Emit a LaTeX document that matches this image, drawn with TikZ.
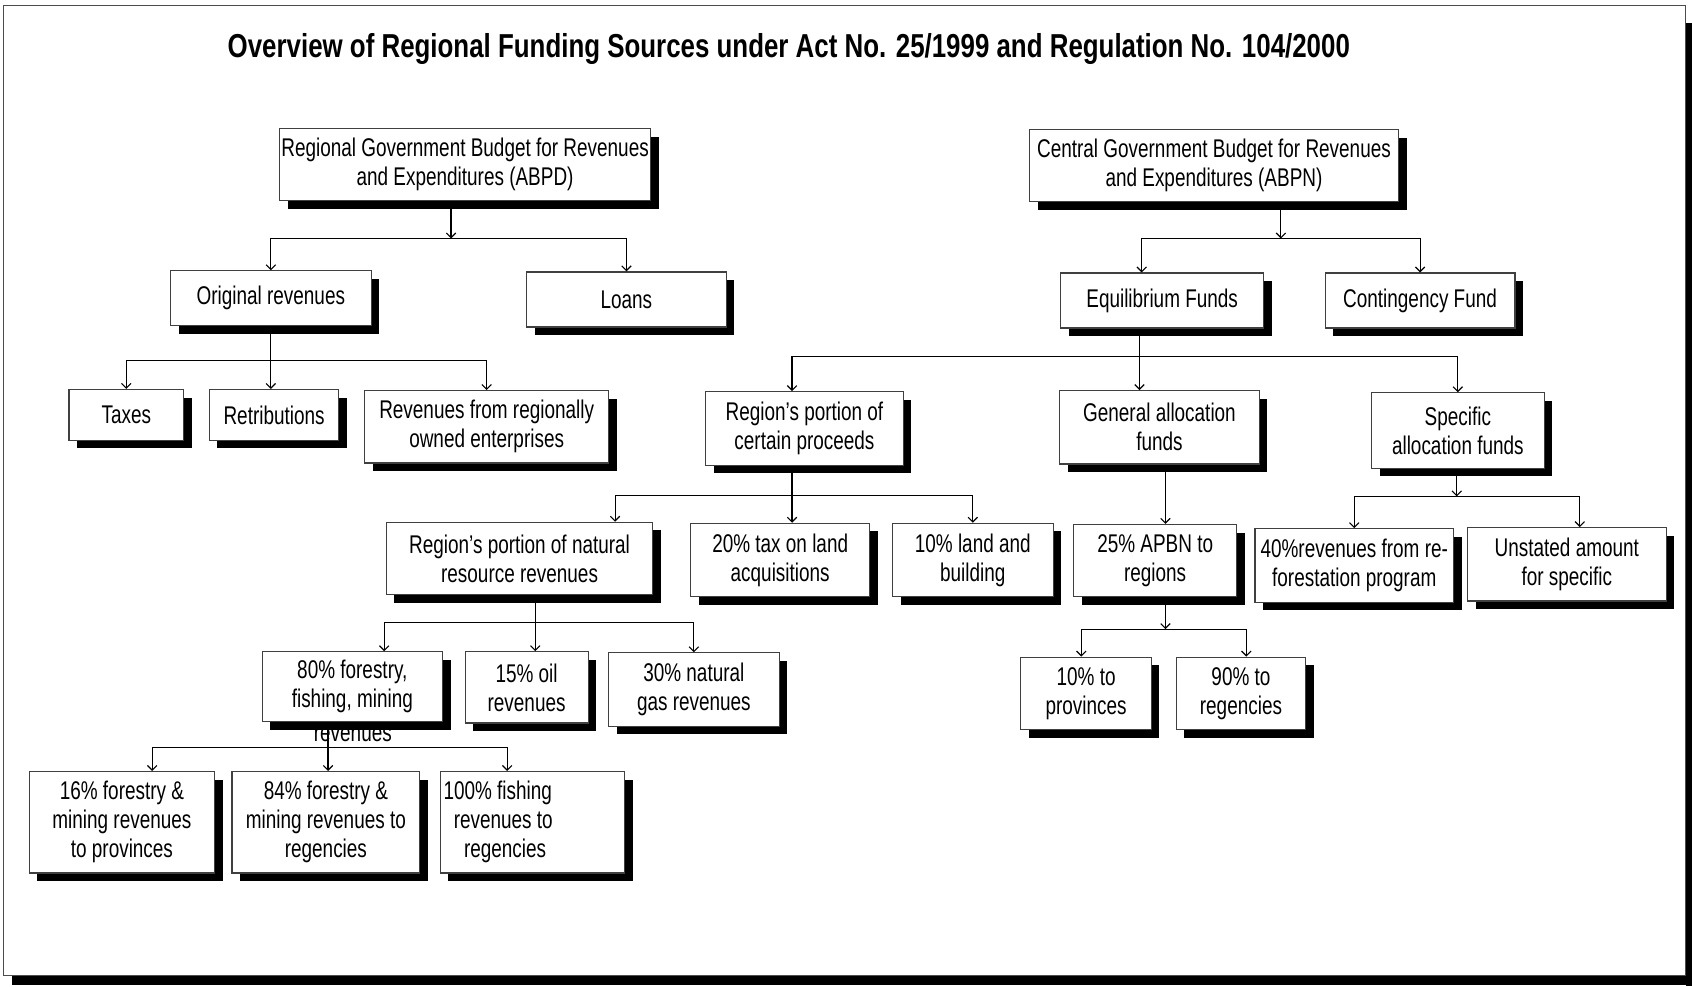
\documentclass[tikz,border=0pt]{standalone}
\usepackage{fontspec}
\setmainfont{Liberation Sans}[FakeStretch = 0.74]
\newfontfamily\titlefont{Liberation Sans}[FakeStretch = 0.78]
\usetikzlibrary{arrows.meta, shadows}

\begin{document}
\begin{tikzpicture}[x = 0.02cm, y = -0.02cm, > = {Straight Barb[length = 2.5pt, width = 5pt]},
	box/.style = {draw = black!75, line width = 0.6pt, fill = white, align = center, inner sep = 1pt,
		font = \fontsize{13.5}{15.3}\selectfont,
		drop shadow = {shadow xshift = 0.15cm, shadow yshift = -0.15cm, fill = black, opacity = 1}},
	dims/.style 2 args = {minimum width = #1 * 0.02cm, minimum height = #2 * 0.02cm},
	conn/.style = {line width = 0.6pt}]

	\useasboundingbox (0, 0) rectangle (1568, 914);

	% Frame and title

	\draw [black!70, line width = 0.6pt] (3, 5) rectangle (1562, 904);
	\fill (1562, 21) rectangle (1568, 914);
	\fill (11, 904) rectangle (1568, 913);

	\node (title) at (731, 45) {\titlefont\bfseries\fontsize{17.5}{19}\selectfont Overview of Regional Funding Sources under Act No. 25/1999 and Regulation No. 104/2000};

	% Budgets

	\node [box, dims = {344}{67}] (abpd) at (431, 152.5) {Regional Government Budget for Revenues\\and Expenditures (ABPD)};
	\node [box, dims = {342}{67}] (abpn) at (1125, 153.5) {Central Government Budget for Revenues\\and Expenditures (ABPN)};

	% Second row

	\node [box, dims = {186}{51}] (orig) at (251, 276.5) {Original revenues};
	\node [box, dims = {185}{51}] (loans) at (580.5, 277.5) {Loans};
	\node [box, dims = {188}{51}] (equil) at (1077, 278.5) {Equilibrium Funds};
	\node [box, dims = {176}{51}] (conting) at (1316, 278.5) {Contingency Fund};

	% Third row

	\node [box, dims = {106}{47}] (taxes) at (117, 384.5) {Taxes};
	\node [box, dims = {120}{47}] (retrib) at (254, 384.5) {Retributions};
	\node [box, dims = {226}{67}] (reo) at (451, 395.5) {Revenues from regionally\\owned enterprises};
	\node [box, dims = {183}{68}] (certain) at (745.5, 397) {Region's portion of\\certain proceeds};
	\node [box, dims = {185}{68}] (general) at (1074.5, 396) {General allocation\\funds};
	\node [box, dims = {160}{70}] (specific) at (1351, 399) {Specific\\allocation funds};

	% Fourth row

	\node [box, dims = {247}{67}] (natres) at (481.5, 517.5) {Region's portion of natural\\resource revenues};
	\node [box, dims = {166}{68}] (tax20) at (723, 519) {20\% tax on land\\acquisitions};
	\node [box, dims = {149}{68}] (land10) at (901.5, 519) {10\% land and\\building};
	\node [box, dims = {151}{67}] (apbn25) at (1070.5, 519.5) {25\% APBN to\\regions};
	\node [box, dims = {184}{68}] (refor) at (1255, 524) {40\%revenues from re-\\forestation program};
	\node [box, dims = {184}{68}] (unstated) at (1452, 523) {Unstated amount\\for specific};

	% Fifth row

	\node [box, dims = {167}{65}] (f80) at (326.5, 636.5) {80\% forestry,\\fishing, mining};
	\node [font = \fontsize{13.5}{15.3}\selectfont] (f80tail) at (327, 681) {revenues};
	\node [box, dims = {114}{66}] (oil15) at (488, 637) {15\% oil\\revenues};
	\node [box, dims = {158}{68}] (gas30) at (643, 639) {30\% natural\\gas revenues};
	\node [box, dims = {121}{67}] (prov10) at (1006.5, 642.5) {10\% to\\provinces};
	\node [box, dims = {120}{67}] (reg90) at (1150, 642.5) {90\% to\\regencies};

	% Sixth row

	\node [box, dims = {172}{94}] (f16) at (113, 762) {16\% forestry \&\\mining revenues\\to provinces};
	\node [box, dims = {174}{94}] (f84) at (302, 762) {84\% forestry \&\\mining revenues to\\regencies};
	\node [box, dims = {171}{94}, align = flush left, text width = 3.3cm, inner sep = 1.5pt] (fish100) at (493.5, 762) {100\% fishing\\\hspace{0.4em}revenues to\\\hspace{0.8em}regencies};

	% Junctions

	\coordinate (jabpd) at (418, 221);
	\coordinate (jabpn) at (1187, 221);
	\coordinate (jorig) at (251, 334);
	\coordinate (jequil) at (1056, 330);
	\coordinate (jcertain) at (734, 459);
	\coordinate (jspecific) at (1350, 460);
	\coordinate (jnatres) at (496, 577);
	\coordinate (japbn) at (1080, 583);
	\coordinate (jf80) at (304, 693);

	% Connectors

	\draw [conn, ->] (abpd.south -| jabpd) -- (jabpd);
	\draw [conn, ->] (jabpd) -| (orig.north);
	\draw [conn, ->] (jabpd) -| (loans.north);

	\draw [conn, ->] (abpn.south -| jabpn) -- (jabpn);
	\draw [conn, ->] (jabpn) -| (1058, 0 |- equil.north);
	\draw [conn, ->] (jabpn) -| (conting.north);

	\draw [conn] (orig.south -| jorig) -- (jorig);
	\draw [conn, ->] (jorig) -| (taxes.north);
	\draw [conn, ->] (jorig) -- (jorig |- retrib.north);
	\draw [conn, ->] (jorig) -| (reo.north);

	\draw [conn] (equil.south -| jequil) -- (jequil);
	\draw [conn, ->] (jequil) -| (734, 0 |- certain.north);
	\draw [conn, ->] (jequil) -- (jequil |- general.north);
	\draw [conn, ->] (jequil) -| (specific.north);

	\draw [conn] (certain.south -| jcertain) -- (jcertain);
	\draw [conn, ->] (jcertain) -| (570, 0 |- natres.north);
	\draw [conn, ->] (jcertain) -- (jcertain |- tax20.north);
	\draw [conn, ->] (jcertain) -| (land10.north);

	\draw [conn, ->] (general.south -| japbn) -- (japbn |- apbn25.north);

	\draw [conn, ->] (specific.south -| jspecific) -- (jspecific);
	\draw [conn, ->] (jspecific) -| (refor.north);
	\draw [conn, ->] (jspecific) -| (1464, 0 |- unstated.north);

	\draw [conn] (natres.south -| jnatres) -- (jnatres);
	\draw [conn, ->] (jnatres) -| (356, 0 |- f80.north);
	\draw [conn, ->] (jnatres) -- (jnatres |- oil15.north);
	\draw [conn, ->] (jnatres) -| (gas30.north);

	\draw [conn, ->] (apbn25.south -| japbn) -- (japbn);
	\draw [conn, ->] (japbn) -| (1002, 0 |- prov10.north);
	\draw [conn, ->] (japbn) -| (1155, 0 |- reg90.north);

	\draw [conn] (f80.south -| jf80) -- (jf80);
	\draw [conn, ->] (jf80) -| (141, 0 |- f16.north);
	\draw [conn, ->] (jf80) -- (jf80 |- f84.north);
	\draw [conn, ->] (jf80) -| (470, 0 |- fish100.north);

\end{tikzpicture}
\end{document}
